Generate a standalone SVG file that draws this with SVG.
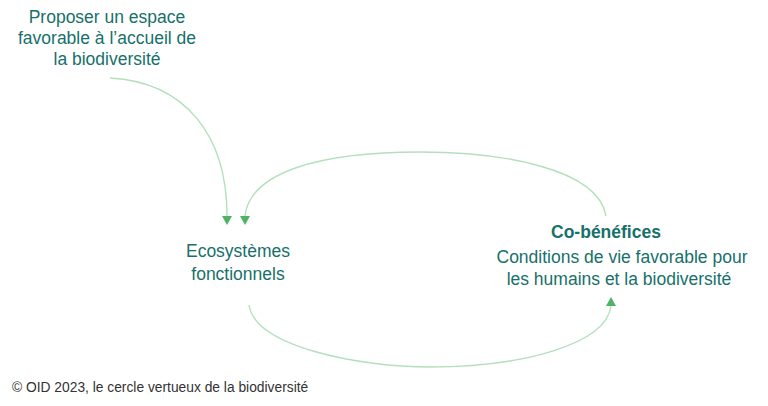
<svg xmlns="http://www.w3.org/2000/svg" width="768" height="406" viewBox="0 0 768 406">
<style>
.t{font-family:"Liberation Sans",Arial,sans-serif;font-size:17.5px;fill:#17706a;text-anchor:middle}
.b{font-weight:bold}
.ln{fill:none;stroke:#b3e0bb;stroke-width:1.4}
.ah{fill:#4cb464}
.f{font-family:"Liberation Sans",Arial,sans-serif;font-size:13.8px;fill:#333333}
</style>
<rect width="768" height="406" fill="#ffffff"/>
<g id="connectors">
<path class="ln" d="M110,78 C185,82 227,135 227,216"/>
<polygon class="ah" points="222,216 232,216 227,225"/>
<path class="ln" d="M606,216 C598,168 500,152 420,152 C320,152 250,172 245,216"/>
<polygon class="ah" points="240,216 250,216 245,225"/>
<path class="ln" d="M249,305 C255,347 360,367 430,367 C520,367 606,345 611,306"/>
<polygon class="ah" points="606,306 616,306 611,297"/>
</g>
<g id="node-espace">
<text class="t" x="107" y="23">Proposer un espace</text>
<text class="t" x="107" y="44">favorable à l’accueil de</text>
<text class="t" x="107" y="65">la biodiversité</text>
</g>
<g id="node-ecosystemes">
<text class="t" x="238" y="257">Ecosystèmes</text>
<text class="t" x="238" y="280">fonctionnels</text>
</g>
<g id="node-cobenefices">
<text class="t b" x="606" y="238">Co-bénéfices</text>
<text class="t" x="622" y="263">Conditions de vie favorable pour</text>
<text class="t" x="619" y="285">les humains et la biodiversité</text>
</g>
<text class="f" x="12" y="392">© OID 2023, le cercle vertueux de la biodiversité</text>
</svg>
